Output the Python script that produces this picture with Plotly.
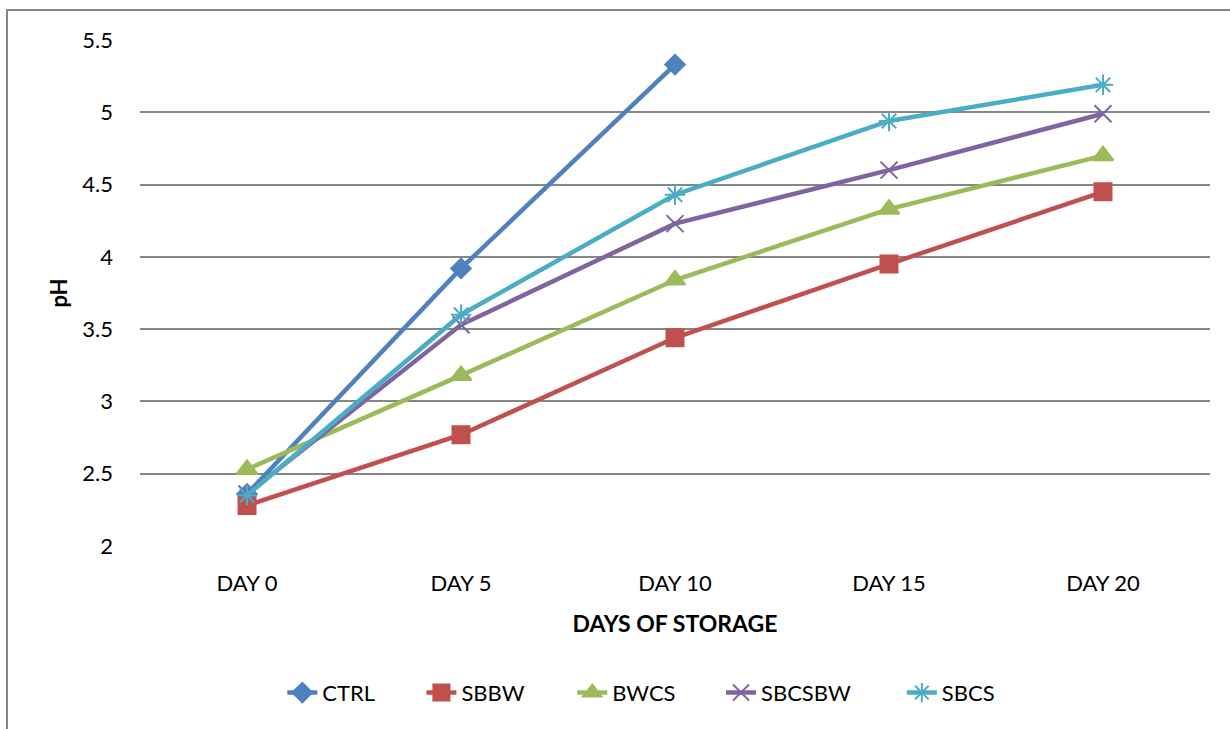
import plotly.graph_objects as go

days = ["DAY 0", "DAY 5", "DAY 10", "DAY 15", "DAY 20"]

ctrl = [2.36, 3.92, 5.33, None, None]
sbbw = [2.28, 2.77, 3.44, 3.95, 4.45]
bwcs = [2.53, 3.18, 3.84, 4.33, 4.70]
sbcsbw = [2.36, 3.53, 4.23, 4.60, 4.99]
sbcs = [2.35, 3.60, 4.43, 4.94, 5.19]

series = [
    ("CTRL", ctrl, "#4F81BD", "diamond", 15),
    ("SBBW", sbbw, "#C0504D", "square", 17),
    ("BWCS", bwcs, "#9BBB59", "triangle-up", 18),
    ("SBCSBW", sbcsbw, "#8064A2", "x-thin", 17),
    ("SBCS", sbcs, "#4BACC6", "asterisk", 17),
]

# one single-entry legend per series, laid out in a row under the chart
legend_x = [0.133, 0.263, 0.404, 0.543, 0.712]
legend_names = ["legend", "legend2", "legend3", "legend4", "legend5"]

font_family = "Lato, Calibri, 'Open Sans', sans-serif"

fig = go.Figure()
for (name, vals, color, symbol, size), lg in zip(series, legend_names):
    fig.add_trace(go.Scatter(
        x=days, y=vals, name=name, mode="lines+markers",
        line=dict(color=color, width=4.5),
        marker=dict(symbol=symbol, size=size, color=color,
                    line=dict(color=color, width=2)),
        connectgaps=False, legend=lg,
    ))

legend_style = dict(orientation="h", xanchor="left", y=-0.29,
                    yanchor="middle", font=dict(size=22), itemwidth=30,
                    bgcolor="rgba(0,0,0,0)")

fig.update_layout(
    width=1230, height=729,
    margin=dict(l=140, r=20, t=40, b=183),
    paper_bgcolor="white", plot_bgcolor="white",
    font=dict(family=font_family, size=21, color="black"),
    showlegend=True,
    xaxis=dict(
        type="category", range=[-0.5, 4.5], showgrid=False,
        showline=False, ticks="", tickfont=dict(size=22),
        ticklabelstandoff=22,
        title=dict(text="<b>DAYS OF STORAGE</b>", font=dict(size=23), standoff=20),
    ),
    yaxis=dict(
        range=[2, 5.5], dtick=0.5, showgrid=True, gridcolor="#868686",
        gridwidth=1.5, zeroline=False, showline=False,
        tickvals=[2, 2.5, 3, 3.5, 4, 4.5, 5, 5.5],
        ticktext=["2", "2.5", "3", "3.5", "4", "4.5", "5", "5.5"],
        ticks="", ticklen=0, tickfont=dict(size=22),
        ticklabelstandoff=26,
        title=dict(text="<b>pH</b>", font=dict(size=22), standoff=8),
    ),
    shapes=[dict(type="rect", xref="paper", yref="paper",
                 x0=-0.1243, x1=1.03, y0=-0.45, y1=1.0593,
                 line=dict(color="#868686", width=2), layer="below")],
)
for lg, lx in zip(legend_names, legend_x):
    fig.update_layout({lg: dict(legend_style, x=lx)})

fig.write_html("out.html")
